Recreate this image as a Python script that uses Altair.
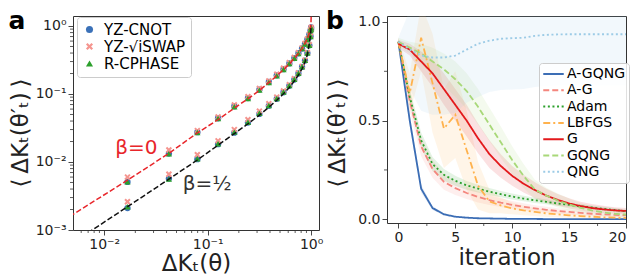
import altair as alt
import pandas as pd

# ---------------- Panel a data ----------------
dk_x = [0.0168, 0.0422, 0.0795, 0.126, 0.181, 0.245, 0.316, 0.39, 0.465, 0.54,
        0.615, 0.687, 0.753, 0.816, 0.871, 0.919, 0.96, 0.986, 0.998]
series_a = ["YZ-CNOT", "YZ-√iSWAP", "R-CPHASE"]
colors_a = ["#3b71b8", "#f5958f", "#2ca02c"]

# beta = 0 branch (upper)
cnot_up = [0.0051, 0.0133, 0.0275, 0.044, 0.066, 0.087, 0.116, 0.15, 0.188, 0.232,
           0.282, 0.337, 0.397, 0.467, 0.547, 0.637, 0.747, 0.857, 0.95]
iswap_up = [0.006, 0.015, 0.029, 0.046, 0.069, 0.091, 0.121, 0.156, 0.195, 0.24,
            0.29, 0.345, 0.405, 0.475, 0.555, 0.645, 0.755, 0.865, 0.95]
cphase_up = [0.0051, 0.0132, 0.0272, 0.0435, 0.065, 0.086, 0.114, 0.148, 0.186, 0.23,
             0.28, 0.335, 0.395, 0.465, 0.545, 0.635, 0.745, 0.855, 0.95]
# beta = 1/2 branch (lower)
cnot_lo = [0.0021, 0.0057, 0.011, 0.0183, 0.027, 0.038, 0.051, 0.067, 0.085, 0.106,
           0.132, 0.163, 0.2, 0.25, 0.31, 0.4, 0.52, 0.7, 0.9]
iswap_lo = [0.0026, 0.0066, 0.0128, 0.0205, 0.030, 0.042, 0.056, 0.072, 0.09, 0.111,
            0.137, 0.168, 0.205, 0.255, 0.315, 0.405, 0.53, 0.71, 0.9]
cphase_lo = [0.0022, 0.0056, 0.0112, 0.0186, 0.0275, 0.0385, 0.052, 0.068, 0.086, 0.107,
             0.133, 0.165, 0.202, 0.252, 0.313, 0.4, 0.52, 0.7, 0.9]

# theory curves
red_x = [0.004, 0.0168, 0.0422, 0.0795, 0.126, 0.181, 0.245, 0.316, 0.39, 0.465, 0.54,
         0.615, 0.687, 0.753, 0.816, 0.871, 0.919, 0.96, 0.986, 0.996, 1.003]
red_y = [0.00137, 0.0054, 0.0134, 0.0268, 0.042, 0.062, 0.085, 0.113, 0.147, 0.185, 0.228,
         0.277, 0.333, 0.395, 0.465, 0.55, 0.65, 0.78, 0.93, 1.15, 1.6]
blk_x = [0.006, 0.0168, 0.0422, 0.0795, 0.126, 0.181, 0.245, 0.316, 0.39, 0.465, 0.54,
         0.615, 0.687, 0.753, 0.816, 0.871, 0.919, 0.96, 0.986, 1.0]
blk_y = [0.00078, 0.0022, 0.0056, 0.0107, 0.0177, 0.0262, 0.0365, 0.049, 0.064, 0.081, 0.101,
         0.125, 0.155, 0.19, 0.235, 0.295, 0.38, 0.55, 0.75, 1.0]

ann_text = ["β=0", "β=½"]
ann_x = [0.0205, 0.099]
ann_y = [0.0158, 0.0047]
ann_color = ["#e8262b", "#333333"]

a_xticks = [0.01, 0.1, 1]
a_yticks = [0.001, 0.01, 0.1, 1]
a_xminor = [0.006, 0.007, 0.008, 0.009, 0.02, 0.03, 0.04, 0.05, 0.06, 0.07, 0.08, 0.09,
            0.2, 0.3, 0.4, 0.5, 0.6, 0.7, 0.8, 0.9]
a_yminor = [0.002, 0.003, 0.004, 0.005, 0.006, 0.007, 0.008, 0.009,
            0.02, 0.03, 0.04, 0.05, 0.06, 0.07, 0.08, 0.09,
            0.2, 0.3, 0.4, 0.5, 0.6, 0.7, 0.8, 0.9]

# ---------------- Panel b data ----------------
iterations = list(range(21))
methods = ["A-GQNG", "A-G", "Adam", "LBFGS", "G", "GQNG", "QNG"]
colors_b = ["#3b6db5", "#f4867e", "#2ca02c", "#ffb24d", "#e3191c", "#a8d878", "#9ccbe6"]
dashes_b = [[1, 0], [6, 3], [2, 2.6], [7, 3, 2, 3], [1, 0], [6, 3], [2, 2.6]]

mean_b = {
    "A-GQNG": [0.9, 0.5, 0.155, 0.057, 0.025, 0.013, 0.008, 0.005, 0.004, 0.003, 0.002,
               0.002, 0.0015, 0.001, 0.001, 0.001, 0.001, 0.001, 0.001, 0.001, 0.001],
    "A-G": [0.9, 0.6, 0.37, 0.255, 0.19, 0.158, 0.133, 0.113, 0.097, 0.084, 0.073,
            0.063, 0.055, 0.048, 0.042, 0.037, 0.032, 0.028, 0.025, 0.022, 0.02],
    "Adam": [0.9, 0.62, 0.4, 0.28, 0.225, 0.195, 0.172, 0.155, 0.14, 0.127, 0.115,
             0.105, 0.096, 0.088, 0.08, 0.073, 0.066, 0.06, 0.053, 0.047, 0.04],
    "LBFGS": [0.9, 0.64, 0.92, 0.69, 0.46, 0.53, 0.35, 0.17, 0.09, 0.07, 0.055,
              0.045, 0.037, 0.03, 0.025, 0.02, 0.016, 0.013, 0.01, 0.008, 0.007],
    "G": [0.89, 0.86, 0.8, 0.74, 0.66, 0.58, 0.5, 0.41, 0.33, 0.27, 0.22,
          0.18, 0.148, 0.12, 0.098, 0.08, 0.067, 0.057, 0.05, 0.045, 0.042],
    "GQNG": [0.9, 0.87, 0.84, 0.8, 0.76, 0.71, 0.65, 0.57, 0.48, 0.39, 0.3,
             0.22, 0.15, 0.12, 0.095, 0.075, 0.058, 0.045, 0.035, 0.028, 0.024],
    "QNG": [0.9, 0.86, 0.83, 0.82, 0.82, 0.83, 0.86, 0.89, 0.905, 0.915, 0.918,
            0.92, 0.93, 0.935, 0.937, 0.938, 0.938, 0.938, 0.938, 0.938, 0.938],
}
spread_b = {
    "A-GQNG": [0.01, 0.03, 0.02, 0.01, 0.006, 0.004, 0.003, 0.002, 0.002, 0.002, 0.002,
               0.002, 0.002, 0.002, 0.002, 0.002, 0.002, 0.002, 0.002, 0.002, 0.002],
    "A-G": [0.02, 0.05, 0.05, 0.045, 0.04, 0.035, 0.03, 0.028, 0.025, 0.022, 0.02,
            0.018, 0.016, 0.015, 0.014, 0.013, 0.012, 0.011, 0.01, 0.01, 0.01],
    "Adam": [0.02, 0.04, 0.04, 0.035, 0.03, 0.025, 0.022, 0.02, 0.018, 0.016, 0.015,
             0.014, 0.013, 0.012, 0.011, 0.01, 0.01, 0.01, 0.01, 0.01, 0.01],
    "LBFGS": [0.02, 0.1, 0.17, 0.25, 0.2, 0.22, 0.2, 0.12, 0.06, 0.04, 0.03,
              0.025, 0.02, 0.018, 0.015, 0.013, 0.011, 0.01, 0.009, 0.008, 0.007],
    "G": [0.02, 0.03, 0.05, 0.07, 0.08, 0.08, 0.08, 0.075, 0.07, 0.06, 0.05,
          0.045, 0.04, 0.035, 0.03, 0.026, 0.022, 0.02, 0.018, 0.016, 0.015],
    "GQNG": [0.02, 0.03, 0.05, 0.07, 0.08, 0.09, 0.09, 0.09, 0.085, 0.08, 0.07,
             0.06, 0.05, 0.04, 0.035, 0.03, 0.025, 0.02, 0.018, 0.016, 0.015],
    "QNG": [0.02, 0.2, 0.28, 0.29, 0.29, 0.29, 0.27, 0.27, 0.26, 0.26, 0.26,
            0.26, 0.26, 0.26, 0.26, 0.26, 0.26, 0.26, 0.26, 0.26, 0.26],
}
b_xminor = [2.5, 7.5, 12.5, 17.5]
b_yminor = [0.25, 0.75]

# ---------------- sizes ----------------
AW, AH = 246, 214
BW, BH = 239, 207
TICK, MINOR = 5, 3

X_PATH = ("M-0.55,-1L0,-0.45L0.55,-1L1,-0.55L0.45,0L1,0.55L0.55,1L0,0.45"
          "L-0.55,1L-1,0.55L-0.45,0L-1,-0.55Z")
YTITLE = "⟨\u2009ΔKₜ(θ′ₜ)\u2009⟩"

def ytitle(xpos, ypos):
    return alt.Chart(pd.DataFrame({"t": [YTITLE]})).mark_text(
        fontSize=23, angle=270, align="center", baseline="middle", color="#222222").encode(
        text="t:N", x=alt.value(xpos), y=alt.value(ypos))

# ---------------- Panel a ----------------
rows = []
for k, (s, up, lo) in enumerate(zip(series_a, [cnot_up, iswap_up, cphase_up],
                                    [cnot_lo, iswap_lo, cphase_lo])):
    for xv, yv in zip(dk_x, up):
        rows.append({"x": xv, "y": yv, "series": s, "idx": k})
    for xv, yv in zip(dk_x, lo):
        rows.append({"x": xv, "y": yv, "series": s, "idx": k})
pts = pd.DataFrame(rows)

lab_expr = ("datum.value >= 0.5 ? '10⁰' : datum.value >= 0.05 ? '10⁻¹' : "
            "datum.value >= 0.005 ? '10⁻²' : '10⁻³'")

xs_a = alt.Scale(type="log", domain=[0.005, 1.19], nice=False)
ys_a = alt.Scale(type="log", domain=[0.001, 1.403], nice=False)

points = alt.Chart(pts).mark_point(filled=True, size=40, opacity=1, clip=True).encode(
    x=alt.X("x:Q", scale=xs_a,
            axis=alt.Axis(values=a_xticks, labelExpr=lab_expr, title="ΔKₜ(θ)",
                          labelOverlap=False, titlePadding=1.5)),
    y=alt.Y("y:Q", scale=ys_a,
            axis=alt.Axis(values=a_yticks, labelExpr=lab_expr, title=None,
                          labelOverlap=False)),
    color=alt.Color("series:N", scale=alt.Scale(domain=series_a, range=colors_a),
                    legend=alt.Legend(title=None, orient="none", legendX=4, legendY=1,
                                      fillColor="white", strokeColor="#cccccc",
                                      cornerRadius=3, padding=5, labelFontSize=15,
                                      symbolSize=50, rowPadding=1, labelOffset=7,
                                      symbolOpacity=1)),
    shape=alt.Shape("series:N", scale=alt.Scale(domain=series_a,
                                                range=["circle", X_PATH, "triangle-up"])),
    order=alt.Order("idx:Q"),
)

red_df = pd.DataFrame({"x": red_x, "y": red_y})
blk_df = pd.DataFrame({"x": blk_x, "y": blk_y})
red_line = alt.Chart(red_df).mark_line(color="#e8262b", strokeDash=[5.5, 2.4],
                                       strokeWidth=1.5, clip=True).encode(
    x=alt.X("x:Q", scale=xs_a), y=alt.Y("y:Q", scale=ys_a))
blk_line = alt.Chart(blk_df).mark_line(color="#111111", strokeDash=[5.5, 2.4],
                                       strokeWidth=1.5, clip=True).encode(
    x=alt.X("x:Q", scale=xs_a), y=alt.Y("y:Q", scale=ys_a))

ann_df = pd.DataFrame({"x": ann_x, "y": ann_y, "t": ann_text, "c": ann_color})
ann = alt.Chart(ann_df).mark_text(fontSize=20, baseline="middle", align="center").encode(
    x=alt.X("x:Q", scale=xs_a), y=alt.Y("y:Q", scale=ys_a), text="t:N",
    color=alt.Color("c:N", scale=None))

xminor_a = alt.Chart(pd.DataFrame({"v": a_xminor})).mark_rule(color="#333", strokeWidth=0.8).encode(
    x=alt.X("v:Q", scale=xs_a), y=alt.value(AH), y2=alt.value(AH + MINOR))
yminor_a = alt.Chart(pd.DataFrame({"v": a_yminor})).mark_rule(color="#333", strokeWidth=0.8).encode(
    y=alt.Y("v:Q", scale=ys_a), x=alt.value(0), x2=alt.value(-MINOR))

lab_a = alt.Chart(pd.DataFrame({"t": ["a"]})).mark_text(
    fontSize=25, fontWeight="bold", align="center", baseline="top", color="black").encode(
    text="t:N", x=alt.value(-56), y=alt.value(-7))

panel_a = alt.layer(points, red_line, blk_line, ann, xminor_a, yminor_a, lab_a,
                    ytitle(-52, 117)).properties(width=AW, height=AH)

# ---------------- Panel b ----------------
brow = []
for m in methods:
    for i, mv, sp in zip(iterations, mean_b[m], spread_b[m]):
        brow.append({"it": i, "method": m, "mean": mv, "lo": mv - sp, "hi": mv + sp})
bdf = pd.DataFrame(brow)

xs_b = alt.Scale(domain=[-1, 20], nice=False, zero=False)
ys_b = alt.Scale(domain=[-0.019, 1.0304], nice=False, zero=False)
cscale = alt.Scale(domain=methods, range=colors_b)
leg_b = alt.Legend(title=None, orient="none", legendX=152, legendY=47,
                   fillColor="rgba(255,255,255,0.85)",
                   strokeColor="#cccccc", cornerRadius=3, padding=3,
                   labelFontSize=14, symbolType="stroke", symbolOpacity=1,
                   symbolSize=420, symbolStrokeWidth=2, clipHeight=16,
                   rowPadding=0.3, labelOffset=2)

bands = alt.Chart(bdf).mark_area(opacity=0.13, clip=True).encode(
    x=alt.X("it:Q", scale=xs_b),
    y=alt.Y("lo:Q", scale=ys_b),
    y2="hi:Q",
    color=alt.Color("method:N", scale=cscale, legend=leg_b),
)
lines = alt.Chart(bdf).mark_line(strokeWidth=1.8, clip=True).encode(
    x=alt.X("it:Q", scale=xs_b,
            axis=alt.Axis(values=[0, 5, 10, 15, 20], format="d", title="iteration",
                          titlePadding=2)),
    y=alt.Y("mean:Q", scale=ys_b,
            axis=alt.Axis(values=[0, 0.5, 1.0], format=".1f", title=None)),
    color=alt.Color("method:N", scale=cscale, legend=leg_b),
    strokeDash=alt.StrokeDash("method:N", scale=alt.Scale(domain=methods, range=dashes_b),
                              legend=leg_b),
)
xminor_b = alt.Chart(pd.DataFrame({"v": b_xminor})).mark_rule(color="#333", strokeWidth=0.8).encode(
    x=alt.X("v:Q", scale=xs_b), y=alt.value(BH), y2=alt.value(BH + MINOR))
yminor_b = alt.Chart(pd.DataFrame({"v": b_yminor})).mark_rule(color="#333", strokeWidth=0.8).encode(
    y=alt.Y("v:Q", scale=ys_b), x=alt.value(0), x2=alt.value(-MINOR))
lab_b = alt.Chart(pd.DataFrame({"t": ["b"]})).mark_text(
    fontSize=25, fontWeight="bold", align="center", baseline="top", color="black").encode(
    text="t:N", x=alt.value(-52), y=alt.value(-7))

panel_b = alt.layer(bands, lines, xminor_b, yminor_b, lab_b,
                    ytitle(-49, 117)).properties(width=BW, height=BH)

chart = alt.hconcat(panel_a, panel_b, spacing=1).resolve_scale(
    color="independent", shape="independent", strokeDash="independent"
).resolve_legend(color="independent", shape="independent", strokeDash="independent"
).configure(
    font="DejaVu Sans", padding={"left": 0, "top": 0, "right": 0, "bottom": 0}
).configure_view(stroke="#333333", strokeWidth=1).configure_axis(
    domain=False, grid=False, tickColor="#333333", tickSize=TICK, tickWidth=0.9,
    labelFontSize=14, titleFontSize=23, titleFontWeight="normal",
    labelColor="#222222", titleColor="#222222", labelPadding=2,
    labelFont="DejaVu Sans", titleFont="DejaVu Sans"
)

chart.save("out.html", embed_options={"renderer": "svg", "actions": False})
